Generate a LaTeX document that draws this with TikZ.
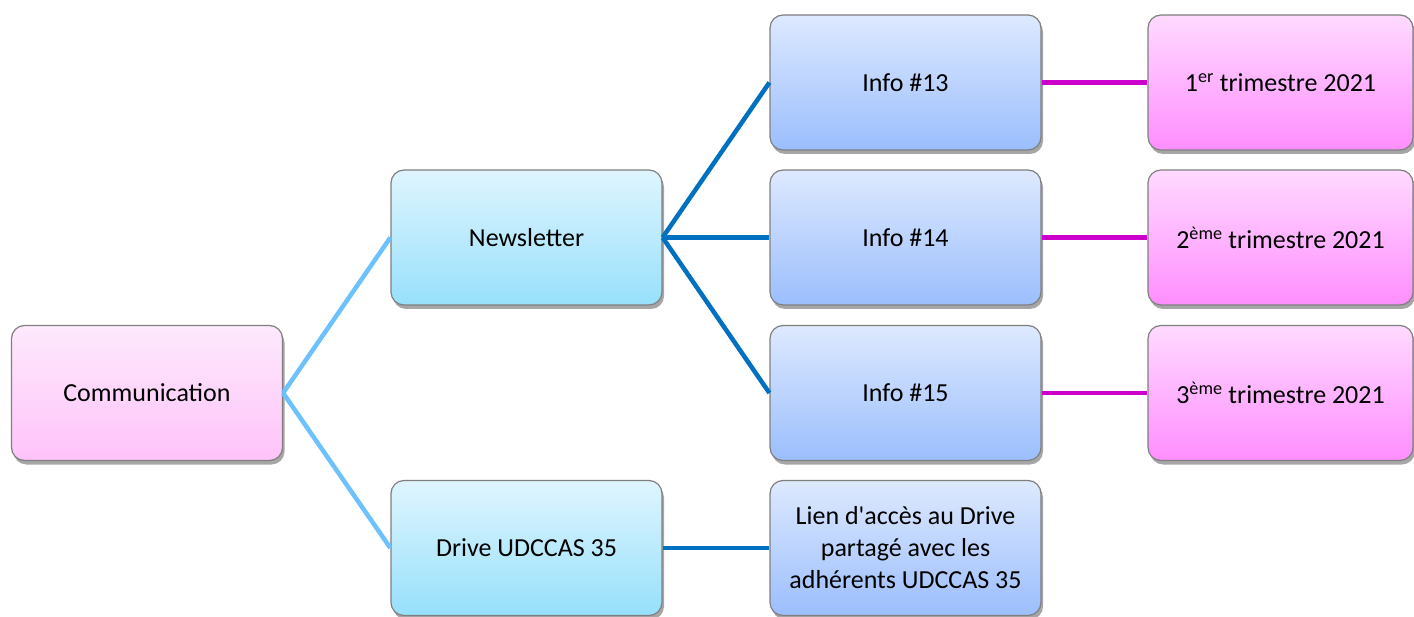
\documentclass[tikz,border=0pt]{standalone}
\usepackage{fontspec}
\setmainfont{Carlito}[Ligatures=TeXOff]
\usetikzlibrary{shadows}
\definecolor{pinkT}{HTML}{FDE9FC}
\definecolor{pinkB}{HTML}{FFC3FA}
\definecolor{magT}{HTML}{FFDAFF}
\definecolor{magB}{HTML}{FF8EFF}
\definecolor{cyanT}{HTML}{DFF5FE}
\definecolor{cyanB}{HTML}{97E0FB}
\definecolor{blueT}{HTML}{DDE9FE}
\definecolor{blueB}{HTML}{9BBEFD}
\definecolor{lightlink}{HTML}{6EC1FF}
\definecolor{darklink}{HTML}{0070C0}
\definecolor{maglink}{HTML}{CC00CC}
\definecolor{boxline}{HTML}{7F7F7F}
\tikzset{
  box/.style={draw=boxline, line width=1.2pt, rounded corners=13pt,
    minimum width=271pt, minimum height=135pt, inner sep=4pt, align=center,
    font=\fontsize{26}{32}\selectfont,
    drop shadow={shadow xshift=2pt, shadow yshift=-4pt, opacity=0.35, fill=black}},
  pinkbox/.style={box, top color=pinkT, bottom color=pinkB},
  magbox/.style={box, top color=magT, bottom color=magB, minimum width=265pt},
  cyanbox/.style={box, top color=cyanT, bottom color=cyanB},
  bluebox/.style={box, top color=blueT, bottom color=blueB},
  llink/.style={draw=lightlink, line width=4.5pt},
  dlink/.style={draw=darklink, line width=4.5pt},
  mlink/.style={draw=maglink, line width=4.5pt},
}
\begin{document}
\begin{tikzpicture}[x=1pt,y=1pt]
\useasboundingbox (0,0) rectangle (1414,-617);
\node[pinkbox] (comm) at (147,-393) {Communication};
\node[cyanbox] (news) at (526.5,-237.5) {Newsletter};
\node[cyanbox] (drive) at (526.5,-548) {Drive UDCCAS 35};
\node[bluebox] (i13) at (905.5,-82.5) {Info \#13};
\node[bluebox] (i14) at (905.5,-237.5) {Info \#14};
\node[bluebox] (i15) at (905.5,-393) {Info \#15};
\node[bluebox] (lien) at (905.5,-548) {Lien d'accès au Drive\\partagé avec les\\adhérents UDCCAS 35};
\node[magbox] (t1) at (1280.5,-82.5) {1\textsuperscript{er} trimestre 2021};
\node[magbox] (t2) at (1280.5,-237.5) {2\textsuperscript{ème} trimestre 2021};
\node[magbox] (t3) at (1280.5,-393) {3\textsuperscript{ème} trimestre 2021};
\draw[llink] (comm.east) -- (news.west);
\draw[llink] (comm.east) -- (drive.west);
\draw[dlink] (news.east) -- (i13.west);
\draw[dlink] (news.east) -- (i14.west);
\draw[dlink] (news.east) -- (i15.west);
\draw[dlink] (drive.east) -- (lien.west);
\draw[mlink] (i13.east) -- (t1.west);
\draw[mlink] (i14.east) -- (t2.west);
\draw[mlink] (i15.east) -- (t3.west);
\end{tikzpicture}
\end{document}
